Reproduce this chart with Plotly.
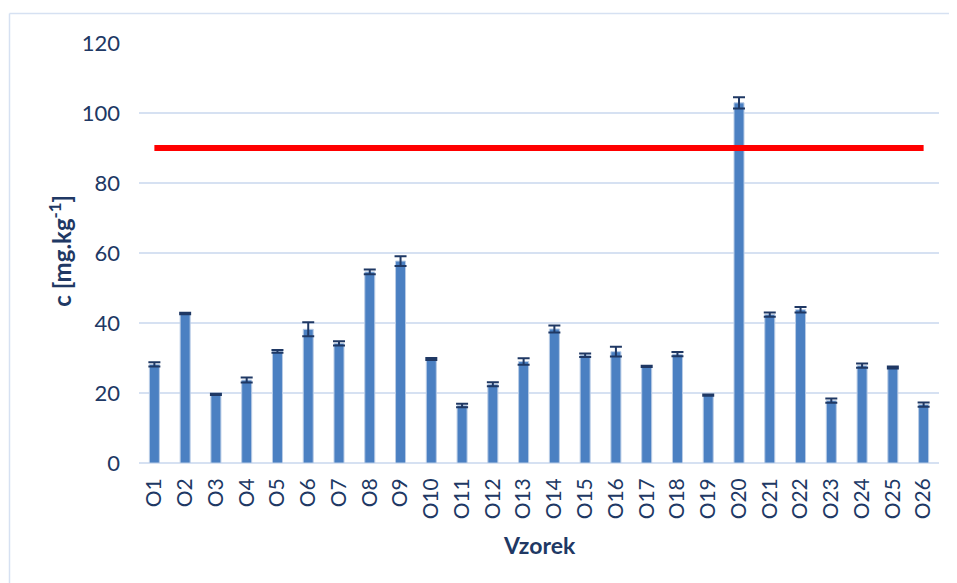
import plotly.graph_objects as go

categories = ["O1", "O2", "O3", "O4", "O5", "O6", "O7", "O8", "O9", "O10",
              "O11", "O12", "O13", "O14", "O15", "O16", "O17", "O18", "O19", "O20",
              "O21", "O22", "O23", "O24", "O25", "O26"]
values = [28.2, 42.7, 19.6, 23.7, 31.9, 38.2, 34.2, 54.6, 57.7, 29.7,
          16.4, 22.5, 29.0, 38.3, 30.8, 31.8, 27.6, 31.1, 19.4, 102.9,
          42.4, 43.8, 17.8, 27.8, 27.3, 16.7]
errors = [0.6, 0.2, 0.2, 0.7, 0.4, 2.0, 0.6, 0.7, 1.4, 0.3,
          0.5, 0.6, 0.95, 1.0, 0.5, 1.4, 0.2, 0.6, 0.2, 1.6,
          0.6, 0.8, 0.6, 0.6, 0.3, 0.6]
limit_value = 90
limit_values = [limit_value] * len(categories)
y_ticks = [0, 20, 40, 60, 80, 100, 120]

text_color = "#203864"
grid_color = "#d6e1f2"
font_family = "Lato"

fig = go.Figure()
fig.add_trace(go.Bar(
    x=categories, y=values,
    marker=dict(color="#4b80c2", line=dict(color="#b9cce6", width=1)),
    error_y=dict(type="data", array=errors, visible=True,
                 color="#1f3864", thickness=2, width=6),
    showlegend=False,
))
fig.add_trace(go.Scatter(
    x=categories, y=limit_values, mode="lines",
    line=dict(color="#ff0000", width=6),
    showlegend=False,
))

border_left = (1.5 - 131) / 800
border_top = (455 - 5.5) / 420

fig.update_layout(
    width=949, height=575,
    margin=dict(l=131, r=18, t=35, b=120),
    paper_bgcolor="white", plot_bgcolor="white",
    bargap=0.675,
    font=dict(family=font_family, color=text_color),
    xaxis=dict(
        tickangle=-90, tickfont=dict(size=21, color=text_color, family=font_family),
        showgrid=False, ticks="", ticklabelstandoff=10,
        showline=False,
    ),
    yaxis=dict(
        range=[0, 120], tickvals=y_ticks, ticktext=[str(v) for v in y_ticks],
        tickfont=dict(size=22, color=text_color, family=font_family),
        showgrid=True, gridcolor=grid_color, gridwidth=1.5,
        zeroline=True, zerolinecolor=grid_color, zerolinewidth=2,
        ticks="", ticklabelstandoff=18, showline=False,
    ),
    annotations=[
        dict(text="c [mg.kg<sup>-1</sup>]", xref="paper", yref="paper",
             x=-0.099, y=0.505, xanchor="center", yanchor="middle",
             textangle=-90, showarrow=False,
             font=dict(size=24, color=text_color, family=font_family, weight="bold")),
        dict(text="Vzorek", xref="paper", yref="paper",
             x=0.5, y=(463 - 545) / 420, xanchor="center", yanchor="middle",
             showarrow=False,
             font=dict(size=23, color=text_color, family=font_family, weight="bold")),
    ],
    shapes=[
        dict(type="line", xref="paper", yref="paper", layer="below",
             x0=border_left, x1=1.05, y0=border_top, y1=border_top,
             line=dict(color=grid_color, width=1.5)),
        dict(type="line", xref="paper", yref="paper", layer="below",
             x0=border_left, x1=border_left, y0=-0.35, y1=border_top,
             line=dict(color=grid_color, width=1.5)),
    ],
)

fig.write_html("out.html")
